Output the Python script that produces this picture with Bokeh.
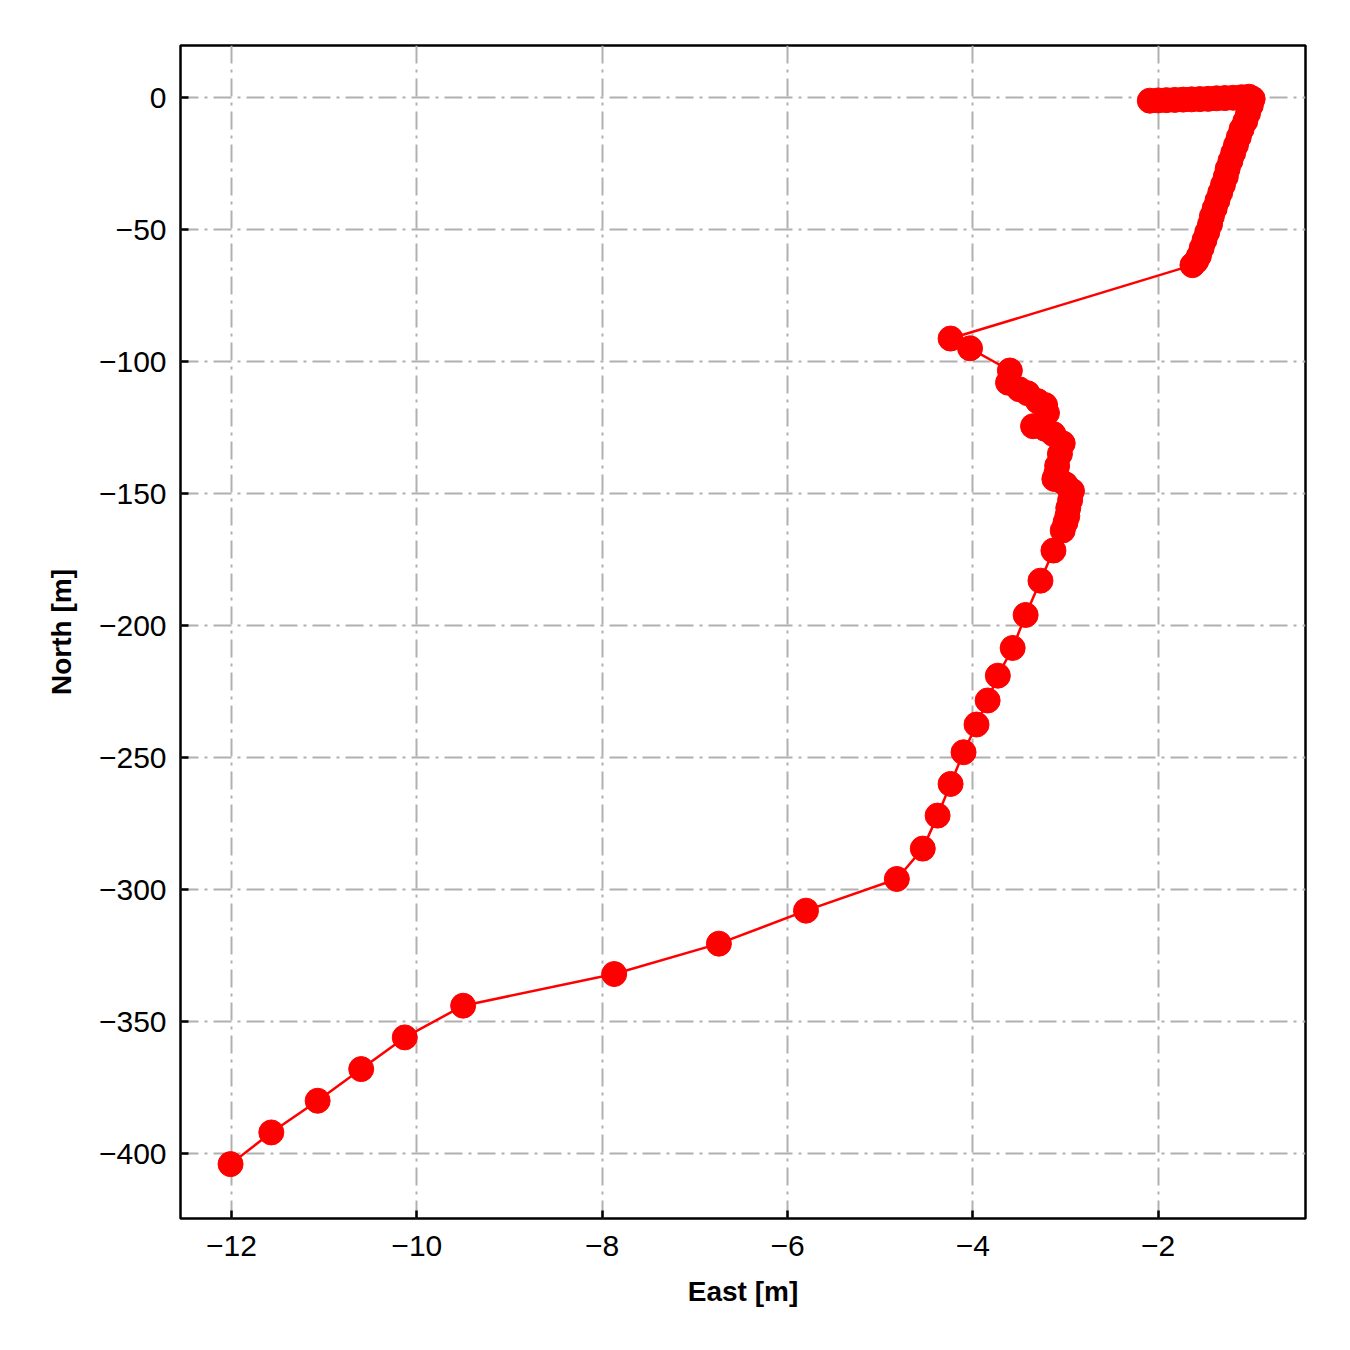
from bokeh.plotting import figure
from bokeh.models import Range1d, FixedTicker, ColumnDataSource
from bokeh.embed import file_html
from bokeh.resources import INLINE

# Trajectory (East [m], North [m])
east = [-2.09, -2.00, -1.91, -1.82, -1.73, -1.64, -1.55, -1.46, -1.37, -1.28,
        -1.19, -1.10, -1.02, -0.98,
        -1.00, -1.03, -1.06, -1.10, -1.13, -1.16, -1.19, -1.22, -1.25, -1.27,
        -1.30, -1.33, -1.36, -1.39, -1.42, -1.44, -1.47, -1.50, -1.53, -1.56,
        -1.59, -1.63,
        -4.24, -4.03, -3.60, -3.62, -3.50, -3.41, -3.30, -3.22, -3.20, -3.35,
        -3.22, -3.13, -3.03, -3.06, -3.09, -3.10, -3.12, -3.00, -2.93, -2.95,
        -2.97, -2.98, -3.00, -3.03, -3.13, -3.27, -3.43, -3.57, -3.73, -3.84,
        -3.96, -4.10, -4.24, -4.38, -4.54, -4.82, -5.80, -6.74, -7.87, -9.50,
        -10.13, -10.60, -11.07, -11.57, -12.01]
north = [-1.2, -1.1, -1.0, -0.9, -0.8, -0.7, -0.6, -0.5, -0.3, -0.2,
         -0.1, 0.1, 0.3, -0.5,
         -3.0, -6.0, -9.0, -12.0, -15.0, -18.0, -21.0, -24.0, -27.0, -30.0,
         -33.0, -36.0, -39.0, -42.0, -45.0, -48.0, -51.0, -54.0, -57.0, -60.0,
         -62.0, -63.5,
         -91.3, -95.0, -103.4, -108.0, -110.5, -112.0, -115.0, -116.5, -119.5, -124.5,
         -125.5, -127.5, -131.0, -135.0, -139.5, -142.5, -144.5, -146.5, -149.0, -152.5,
         -155.5, -158.5, -161.0, -164.0, -171.6, -183.0, -196.0, -208.5, -219.0, -228.4,
         -237.5, -248.0, -260.0, -272.0, -284.5, -296.0, -308.0, -320.5, -332.0, -344.0,
         -356.0, -368.0, -380.0, -392.0, -404.0]

x_ticks = [-12, -10, -8, -6, -4, -2]
y_ticks = [0, -50, -100, -150, -200, -250, -300, -350, -400]
x_label = "East [m]"
y_label = "North [m]"

FONT = "Liberation Sans"

p = figure(output_backend="svg", toolbar_location=None,
           width=1342, height=1342,
           frame_width=1125, frame_height=1173,
           min_border_left=180, min_border_right=37,
           min_border_top=45, min_border_bottom=124,
           x_range=Range1d(-12.55, -0.41), y_range=Range1d(-424.6, 19.7))

p.background_fill_color = "white"
p.border_fill_color = "white"
p.outline_line_color = "black"
p.outline_line_width = 2.5

src = ColumnDataSource(dict(x=east, y=north))
p.line("x", "y", source=src, line_color="#ff0000", line_width=2.5)
p.scatter("x", "y", source=src, size=25, marker="circle",
          fill_color="#ff0000", line_color="#ff0000")

for ax, ticks, lab in ((p.xaxis[0], x_ticks, x_label), (p.yaxis[0], y_ticks, y_label)):
    ax.ticker = FixedTicker(ticks=ticks)
    ax.major_label_overrides = {t: (str(t).replace("-", "\u2212")) for t in ticks}
    ax.axis_label = lab
    ax.axis_label_text_font = FONT
    ax.axis_label_text_font_style = "bold"
    ax.axis_label_text_font_size = "28px"
    ax.axis_label_text_color = "black"
    ax.major_label_text_font = FONT
    ax.major_label_text_font_size = "30px"
    ax.major_label_text_color = "black"
    ax.axis_line_color = None
    ax.major_tick_in = 8
    ax.major_tick_out = 0
    ax.major_tick_line_width = 2.5
    ax.major_tick_line_color = "black"
    ax.minor_tick_line_color = None

p.xaxis.major_label_standoff = 17
p.yaxis.major_label_standoff = 14
p.xaxis.axis_label_standoff = 17
p.yaxis.axis_label_standoff = 19

for g in (p.xgrid[0], p.ygrid[0]):
    g.grid_line_color = "#b0b0b0"
    g.grid_line_width = 2
    g.grid_line_dash = "18 6 3 6"

open("out.html", "w").write(file_html(p, INLINE))
